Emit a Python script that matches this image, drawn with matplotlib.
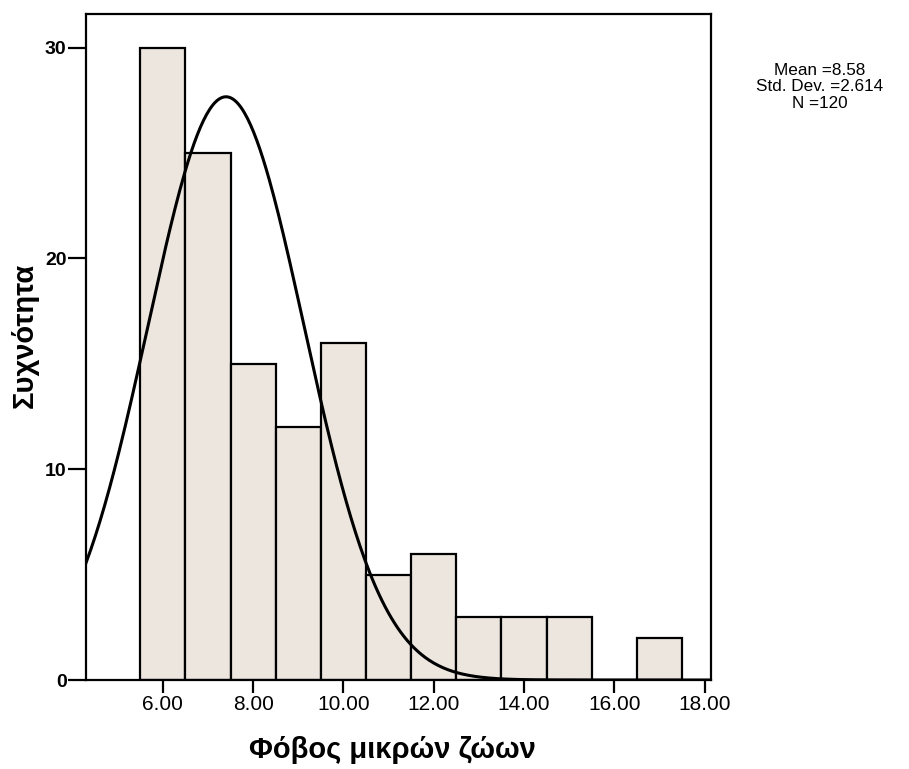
import matplotlib.pyplot as plt
import numpy as np

# histogram bins (bin centres) and counts
bin_centres = [6, 7, 8, 9, 10, 11, 12, 13, 14, 15, 16, 17]
counts = [30, 25, 15, 12, 16, 5, 6, 3, 3, 3, 0, 2]

# normal curve as drawn in the picture
curve_mean = 7.4
curve_sd = 1.73
n_total = 120
bin_width = 1.0

x_ticks = [6, 8, 10, 12, 14, 16, 18]
y_ticks = [0, 10, 20, 30]
stats_text = "Mean =8.58\nStd. Dev. =2.614\nN =120"

plt.rcParams['font.family'] = ['Liberation Sans', 'DejaVu Sans']

fig = plt.figure(figsize=(9.09, 7.69), dpi=100)
ax = fig.add_axes([0.0946, 0.1157, 0.6876, 0.8661])

ax.bar(bin_centres, counts, width=bin_width, color='#ECE6DF',
       edgecolor='black', linewidth=1.6, zorder=2)

xs = np.linspace(4.3, 18.14, 400)
ys = n_total * bin_width / (curve_sd * np.sqrt(2 * np.pi)) * \
    np.exp(-0.5 * ((xs - curve_mean) / curve_sd) ** 2)
ax.plot(xs, ys, color='black', lw=2.2, zorder=3)

ax.set_xlim(4.3, 18.14)
ax.set_ylim(0, 31.6)
ax.set_xticks(x_ticks)
ax.set_xticklabels([f"{t:.2f}" for t in x_ticks], fontsize=15)
ax.set_yticks(y_ticks)
ax.set_yticklabels([str(t) for t in y_ticks], fontweight='bold', fontsize=14)
ax.tick_params(axis='x', direction='out', length=9, width=1.6, pad=2)
ax.tick_params(axis='y', direction='out', length=13, width=1.6, pad=1)
for s in ax.spines.values():
    s.set_linewidth(1.6)

ax.set_xlabel("Φόβος μικρών ζώων", fontsize=21, fontweight='bold', va='center')
ax.xaxis.set_label_coords(0.49, -0.105)
ax.set_ylabel("Συχνότητα", fontsize=21, fontweight='bold', va='center')
ax.yaxis.set_label_coords(-0.098, 0.517)

fig.text(0.902, 0.887, stats_text, ha='center', va='center', fontsize=12.3,
         linespacing=1.12)

fig.savefig("out.png", dpi=100)
